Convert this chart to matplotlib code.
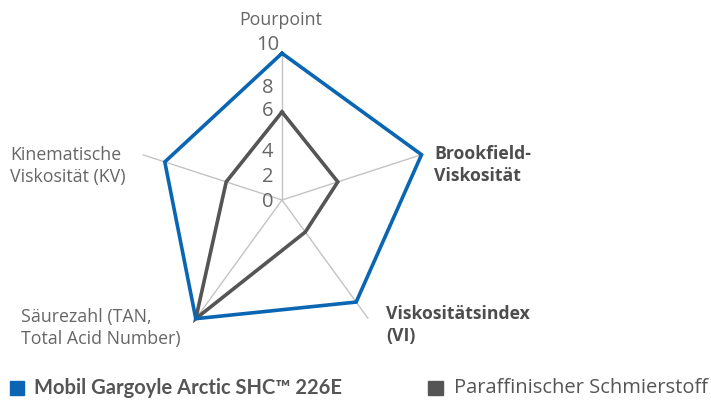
import numpy as np
import matplotlib
matplotlib.use("Agg")
import matplotlib.pyplot as plt
from matplotlib.patches import Rectangle

categories = ["Pourpoint", "Brookfield-\nViskosität", "Viskositätsindex\n(VI)",
              "Säurezahl (TAN,\nTotal Acid Number)", "Kinematische\nViskosität (KV)"]
series_names = ["Mobil Gargoyle Arctic SHC™ 226E", "Paraffinischer Schmierstoff"]
mobil = [10, 10, 8.6, 10, 8.4]
paraffin = [6, 4, 2.7, 10, 4]
tick_labels = ["0", "2", "4", "6", "8", "10"]

W, H = 711, 403
plt.rcParams['font.family'] = ['Open Sans', 'DejaVu Sans']
fig = plt.figure(figsize=(W / 100, H / 100), dpi=100)

cx, cy, R = 282, 200, 146.7
ax = fig.add_axes([(cx - R) / W, (H - cy - R) / H, 2 * R / W, 2 * R / H], projection='polar')
ax.set_theta_offset(np.pi / 2)
ax.set_theta_direction(-1)
n = len(categories)
angles = np.arange(n) * 2 * np.pi / n
ax.set_ylim(0, 10)
ax.set_xticks(angles)
ax.set_xticklabels([])
ax.set_yticks([])
ax.spines['polar'].set_visible(False)
ax.xaxis.grid(True, color='#c3c3c3', lw=1)
ax.yaxis.grid(False)
ax.patch.set_alpha(0)

blue = '#0a66b2'
grey = '#555555'
for vals, col in [(paraffin, grey), (mobil, blue)]:
    a = np.append(angles, angles[0])
    v = np.append(vals, vals[0])
    ax.plot(a, v, color=col, lw=2.6, solid_joinstyle='miter', clip_on=False)

def px(x, y):
    return x / W, 1 - y / H

txt = '#666666'
# radial tick labels (as placed in reference)
tick_y = [202, 177, 152, 111, 88, 45]
for lab, y in zip(tick_labels, tick_y):
    fig.text(*px(267.5, y), lab, ha='center', va='center', fontsize=14.5, color=txt)

fs = 12.8
fig.text(*px(281, 20), categories[0], ha='center', va='center', fontsize=fs, color=txt)
fig.text(*px(434, 165), categories[1], ha='left', va='center', fontsize=12.7, color='#4d4d4d',
         fontweight='bold', linespacing=1.32)
fig.text(*px(386, 325), categories[2], ha='left', va='center', fontsize=12.7, color='#4d4d4d',
         fontweight='bold', linespacing=1.32)
fig.text(*px(21, 328), categories[3], ha='left', va='center', fontsize=fs, color=txt,
         linespacing=1.3)
fig.text(*px(10, 166), categories[4], ha='left', va='center', fontsize=fs, color=txt,
         linespacing=1.3)

# legend
fig.patches.append(Rectangle(px(10, 395), 14 / W, 14 / H, transform=fig.transFigure, color=blue))
fig.text(*px(34, 388), series_names[0], ha='left', va='center', fontsize=14.5, color='#555555',
         fontweight='bold', family=['Lato', 'DejaVu Sans'])
fig.patches.append(Rectangle(px(428, 395), 15 / W, 14 / H, transform=fig.transFigure, color=grey))
fig.text(*px(454, 388), series_names[1], ha='left', va='center', fontsize=14.5, color='#555555')

fig.savefig('out.png', dpi=100)
